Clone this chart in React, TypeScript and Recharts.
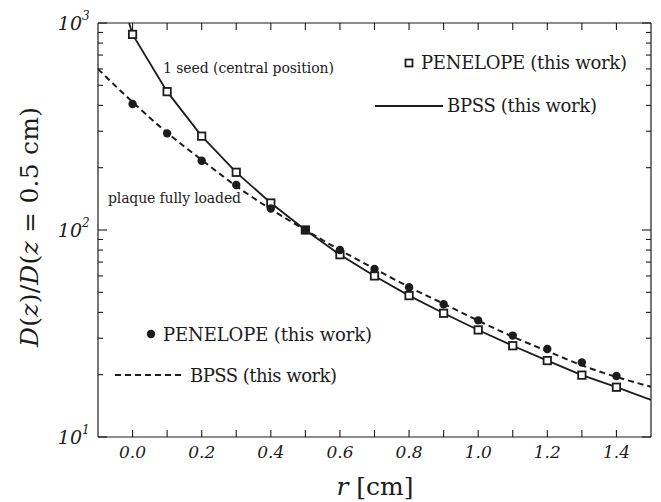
import { ComposedChart, Line, Scatter, XAxis, YAxis } from "recharts";

// r positions of the PENELOPE points (cm)
const R_POINTS = [0, 0.1, 0.2, 0.3, 0.4, 0.5, 0.6, 0.7, 0.8, 0.9, 1.0, 1.1, 1.2, 1.3, 1.4];
// 1 seed, central position
const SEED_PEN = [881, 466, 284, 190, 135, 100, 76, 60, 48.2, 39.6, 32.9, 27.6, 23.4, 19.9, 17.4];
// plaque fully loaded
const LOADED_PEN = [406, 293, 216, 165, 127, 100, 80, 64.8, 52.9, 43.8, 36.6, 30.9, 26.6, 22.9, 19.7];

// BPSS curves
const SEED_BPSS_R = [-0.01, 0, 0.1, 0.2, 0.3, 0.4, 0.5, 0.6, 0.7, 0.8, 0.9, 1.0, 1.1, 1.2, 1.3, 1.4, 1.5];
const SEED_BPSS = [1000, 881, 466, 284, 190, 135, 100, 76, 60, 48.2, 39.6, 32.9, 27.6, 23.4, 19.9, 17.4, 15.1];
const LOADED_BPSS_R = [-0.1, 0, 0.1, 0.2, 0.3, 0.4, 0.5, 0.6, 0.7, 0.8, 0.9, 1.0, 1.1, 1.2, 1.3, 1.4, 1.5];
const LOADED_BPSS = [600, 415, 295, 218, 163, 126, 100, 80, 65, 53, 44, 36.5, 30.5, 26, 22.2, 19.5, 17.5];

const X_TICKS = [0, 0.1, 0.2, 0.3, 0.4, 0.5, 0.6, 0.7, 0.8, 0.9, 1.0, 1.1, 1.2, 1.3, 1.4];
const X_LABELED = ["0.0", "0.2", "0.4", "0.6", "0.8", "1.0", "1.2", "1.4"];
const Y_TICKS = [10, 20, 30, 40, 50, 60, 70, 80, 90, 100, 200, 300, 400, 500, 600, 700, 800, 900, 1000];
const Y_DECADES = [1, 2, 3];

const pts = (xs: number[], ys: number[]) => xs.map((r, i) => ({ r, v: ys[i] }));

const INK = "#1c1c1c";
const SERIF = "DejaVu Serif, Liberation Serif, serif";

const Square = (p: any) => (
  <rect x={p.cx - 3.7} y={p.cy - 3.7} width={7.4} height={7.4} fill="#fff" stroke={INK} strokeWidth={1.8} />
);
const Dot = (p: any) => <circle cx={p.cx} cy={p.cy} r={4.2} fill={INK} />;

const BottomTick = (p: any) => {
  const lbl = p.payload.value.toFixed(1);
  return (
    <g>
      <line x1={p.x} x2={p.x} y1={p.y} y2={p.y - 7} stroke={INK} strokeWidth={1.1} />
      {X_LABELED.includes(lbl) && (
        <text x={p.x} y={p.y + 21} textAnchor="middle" fontSize={17} fontStyle="italic" fontFamily={SERIF} fill={INK}>
          {lbl}
        </text>
      )}
    </g>
  );
};

const TopTick = (p: any) => (
  <line x1={p.x} x2={p.x} y1={p.y} y2={p.y + 7} stroke={INK} strokeWidth={1.1} />
);

const isDecade = (v: number) => [10, 100, 1000].includes(v);

const LeftTick = (p: any) => {
  const v = p.payload.value;
  const major = isDecade(v);
  const exp = Y_DECADES[[10, 100, 1000].indexOf(v)];
  return (
    <g>
      <line x1={p.x} x2={p.x + (major ? 9 : 5)} y1={p.y} y2={p.y} stroke={INK} strokeWidth={1.1} />
      {major && (
        <text x={p.x - 16} y={p.y + 7} textAnchor="end" fontSize={19} fontStyle="italic" fontFamily={SERIF} fill={INK}>
          10
        </text>
      )}
      {major && (
        <text x={p.x - 16} y={p.y - 3} fontSize={12} fontStyle="italic" fontFamily={SERIF} fill={INK}>
          {exp}
        </text>
      )}
    </g>
  );
};

const RightTick = (p: any) => {
  const major = isDecade(p.payload.value);
  return <line x1={p.x} x2={p.x - (major ? 9 : 5)} y1={p.y} y2={p.y} stroke={INK} strokeWidth={1.1} />;
};

const Labels = () => (
  <svg width={661} height={502} style={{ position: "absolute", left: 0, top: 0, pointerEvents: "none" }}>
    <g fontFamily={SERIF} fill={INK}>
      <text x={163} y={73} fontSize={14} textLength={171} lengthAdjust="spacing">1 seed (central position)</text>
      <text x={108} y={203} fontSize={14} textLength={133} lengthAdjust="spacing">plaque fully loaded</text>

      <rect x={405.5} y={59.5} width={7} height={7} fill="#fff" stroke={INK} strokeWidth={1.8} />
      <text x={421} y={69} fontSize={18} textLength={206} lengthAdjust="spacing">PENELOPE (this work)</text>
      <line x1={375} x2={443} y1={106} y2={106} stroke={INK} strokeWidth={1.8} />
      <text x={447} y={112} fontSize={18} textLength={150} lengthAdjust="spacing">BPSS (this work)</text>

      <circle cx={151} cy={334} r={4.2} />
      <text x={163} y={341} fontSize={18} textLength={209} lengthAdjust="spacing">PENELOPE (this work)</text>
      <line x1={115} x2={185} y1={375} y2={375} stroke={INK} strokeWidth={2} strokeDasharray="6 4" />
      <text x={190} y={382} fontSize={18} textLength={147} lengthAdjust="spacing">BPSS (this work)</text>

      <text transform="translate(38,227) rotate(-90)" textAnchor="middle" fontSize={25} textLength={240} lengthAdjust="spacing">
        <tspan fontStyle="italic">D</tspan>(<tspan fontStyle="italic">z</tspan>)/<tspan fontStyle="italic">D</tspan>(<tspan fontStyle="italic">z</tspan> = 0.5 cm)
      </text>
      <text x={375} y={495} textAnchor="middle" fontSize={25}>
        <tspan fontStyle="italic">r</tspan> [cm]
      </text>
    </g>
  </svg>
);

export default function App() {
  return (
    <div style={{ position: "absolute", left: 0, top: 0, width: 661, height: 502, background: "#fff" }}>
      <ComposedChart width={661} height={502} margin={{ top: 22, right: 9, bottom: 25, left: 38 }}>
        <XAxis
          dataKey="r" type="number" domain={[-0.1, 1.5]} allowDataOverflow ticks={X_TICKS} interval={0}
          height={40} tickSize={0} tickMargin={0} tickLine={false} tick={BottomTick}
          axisLine={{ stroke: INK, strokeWidth: 1.2 }}
        />
        <XAxis
          xAxisId="top" orientation="top" dataKey="r" type="number" domain={[-0.1, 1.5]} allowDataOverflow
          ticks={X_TICKS} interval={0} height={1} tickSize={0} tickMargin={0} tickLine={false} tick={TopTick}
          axisLine={{ stroke: INK, strokeWidth: 1.2 }}
        />
        <YAxis
          dataKey="v" scale="log" type="number" domain={[10, 1000]} allowDataOverflow ticks={Y_TICKS} interval={0}
          width={60} tickSize={0} tickMargin={0} tickLine={false} tick={LeftTick}
          axisLine={{ stroke: INK, strokeWidth: 1.2 }}
        />
        <YAxis
          yAxisId="right" orientation="right" scale="log" type="number" domain={[10, 1000]} allowDataOverflow
          ticks={Y_TICKS} interval={0} width={1} tickSize={0} tickMargin={0} tickLine={false} tick={RightTick}
          axisLine={{ stroke: INK, strokeWidth: 1.2 }}
        />
        <Line data={pts(LOADED_BPSS_R, LOADED_BPSS)} dataKey="v" type="monotone" stroke={INK} strokeWidth={2}
          strokeDasharray="6 4" dot={false} activeDot={false} isAnimationActive={false} />
        <Line data={pts(SEED_BPSS_R, SEED_BPSS)} dataKey="v" type="linear" stroke={INK} strokeWidth={1.8}
          dot={false} activeDot={false} isAnimationActive={false} />
        <Scatter data={pts(R_POINTS, SEED_PEN)} dataKey="v" shape={Square} isAnimationActive={false} />
        <Scatter data={pts(R_POINTS, LOADED_PEN)} dataKey="v" shape={Dot} isAnimationActive={false} />
      </ComposedChart>
      <Labels />
    </div>
  );
}
